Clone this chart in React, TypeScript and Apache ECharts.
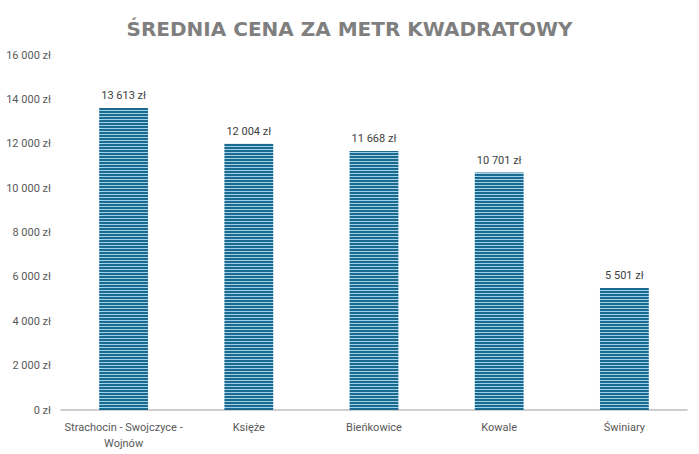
import React, { useEffect, useRef } from "react";
import * as echarts from "echarts";

const categories = ["Strachocin - Swojczyce -\nWojnów", "Księże", "Bieńkowice", "Kowale", "Świniary"];
const values = [13613, 12004, 11668, 10701, 5501];
const yMax = 16000;
const yInterval = 2000;
const titleText = "ŚREDNIA CENA ZA METR KWADRATOWY";

const fmt = (v: number) =>
  String(Math.round(v)).replace(/\B(?=(\d{3})+(?!\d))/g, " ") + " zł";

function makePattern() {
  const c = document.createElement("canvas");
  c.width = 4;
  c.height = 3;
  const ctx = c.getContext("2d")!;
  ctx.fillStyle = "#1b6b91";
  ctx.fillRect(0, 0, 4, 2);
  ctx.fillStyle = "#9fd0e6";
  ctx.fillRect(0, 2, 4, 1);
  return c;
}

export default function App() {
  const ref = useRef<HTMLDivElement>(null);
  useEffect(() => {
    if (!ref.current) return;
    const chart = echarts.init(ref.current, undefined, { renderer: "svg" });
    const pattern = makePattern();
    chart.setOption({
      animation: false,
      backgroundColor: "#ffffff",
      title: {
        text: titleText,
        left: "center",
        top: 14,
        textStyle: {
          fontFamily: "DejaVu Sans",
          fontWeight: "bold",
          fontSize: 20,
          color: "#7f7f7f",
        },
      },
      grid: { left: 61, right: 12, top: 55, bottom: 44 },
      xAxis: {
        type: "category",
        data: categories,
        axisLine: { lineStyle: { color: "#bfbfbf", width: 1.5 } },
        axisTick: { show: false },
        axisLabel: {
          color: "#595959",
          fontFamily: "Roboto",
          fontSize: 11,
          lineHeight: 16,
          margin: 9,
          interval: 0,
        },
      },
      yAxis: {
        type: "value",
        min: 0,
        max: yMax,
        interval: yInterval,
        splitLine: { show: false },
        axisLine: { show: false },
        axisTick: { show: false },
        axisLabel: {
          color: "#595959",
          fontFamily: "Roboto",
          fontSize: 11,
          margin: 10,
          formatter: (v: number) => fmt(v),
        },
      },
      series: [
        {
          type: "bar",
          data: values,
          barWidth: "39%",
          itemStyle: {
            color: { image: pattern, repeat: "repeat" } as any,
          },
          label: {
            show: true,
            position: "top",
            distance: 7,
            color: "#404040",
            fontFamily: "Roboto",
            fontSize: 11,
            formatter: (p: any) => fmt(p.value),
          },
        },
      ],
    });
    return () => chart.dispose();
  }, []);
  return (
    <div
      ref={ref}
      style={{ position: "absolute", left: 0, top: 0, width: 699, height: 454 }}
    />
  );
}
